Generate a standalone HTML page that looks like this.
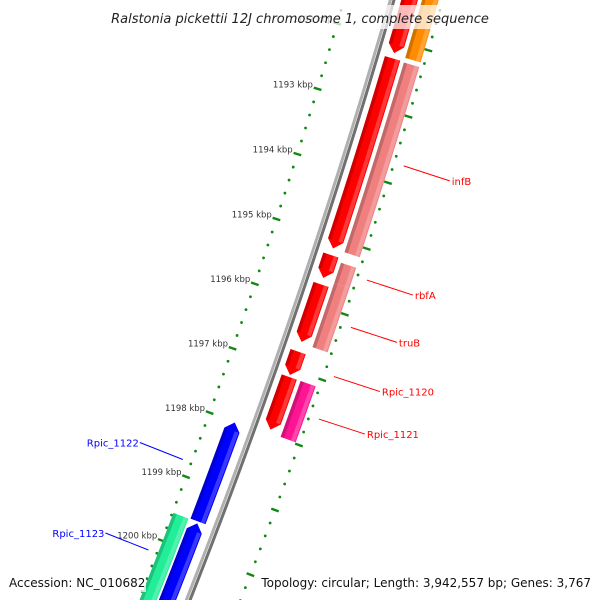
<!DOCTYPE html>
<html><head><meta charset="utf-8"><style>
html,body{margin:0;padding:0;background:#fff;width:600px;height:600px;overflow:hidden}
svg{display:block;font-family:"DejaVu Sans","Liberation Sans",sans-serif}
</style></head><body>
<svg id="map" width="600" height="600" viewBox="0 0 600 600" xmlns="http://www.w3.org/2000/svg">
<g id="ticks"></g>
<g id="backbone"></g>
<g id="features"></g>
<g id="labels"></g>
<rect x="98" y="5" width="404" height="24" fill="#fff" fill-opacity="0.72"/>
<text x="300" y="23" text-anchor="middle" font-style="italic" font-size="13" fill="#222">Ralstonia pickettii 12J chromosome 1, complete sequence</text>
<rect x="4" y="572" width="142" height="20" fill="#fff" fill-opacity="0.72"/>
<text x="9" y="587" font-size="12" fill="#111">Accession: NC_010682</text>
<rect x="256" y="572" width="340" height="20" fill="#fff" fill-opacity="0.72"/>
<text x="591" y="587" text-anchor="end" font-size="12" fill="#111">Topology: circular; Length: 3,942,557 bp; Genes: 3,767</text>
</svg>
<script>
// ---- data ----
const featNames  = ['prev','infB','rbfA','truB','Rpic_1120','unl','orange','infB_p','rbfA_p','truB_p','Rpic_1121','Rpic_1122','blue2','Rpic_1123'];
const featStart  = [1190.5,1192.26,1195.25,1195.70,1196.73,1197.12,1190.5,1192.27,1195.31,1195.62,1197.12,1198.01,1199.58,1199.56];
const featEnd    = [1192.18,1195.15,1195.60,1196.58,1197.09,1197.93,1192.20,1195.15,1195.62,1196.60,1197.98,1199.55,1201.5,1201.5];
const featStrand = [1,1,1,1,1,1,0,0,0,0,0,-1,-1,0];
const featLane   = [0,0,0,0,0,0,1,1,1,1,1,2,2,3];
const featColor  = ['#ff0000','#ff0000','#ff0000','#ff0000','#ff0000','#ff0000','#ff8c00','#f08080','#f08080','#f08080','#ff1493','#0000ff','#0000ff','#22ee99'];
const labelNames = ['infB','rbfA','truB','Rpic_1120','Rpic_1121','Rpic_1122','Rpic_1123'];
const labelPos   = [1193.70,1195.43,1196.15,1196.90,1197.55,1198.78,1200.20];
const labelSide  = [1,1,1,1,1,-1,-1];
const tickStartKbp = 1191;
const tickEndKbp = 1200.8;
// ---- geometry ----
const NS='http://www.w3.org/2000/svg';
const CX=-5981, CY=-1832;
const laneR=[[6640,6656],[6660,6676],[6604,6620],[6586,6602]];
function ang(k){return (16.96+(k-1193)*0.594)*Math.PI/180;}
function pt(k,r){const a=ang(k);return [CX+r*Math.cos(a),CY+r*Math.sin(a)];}
function f(p){return p[0].toFixed(2)+','+p[1].toFixed(2);}
function el(t,attrs,parent){const e=document.createElementNS(NS,t);for(const k in attrs)e.setAttribute(k,attrs[k]);parent.appendChild(e);return e;}
function arcPts(k1,k2,r){const n=Math.max(2,Math.ceil(Math.abs(k2-k1)*6));const a=[];for(let i=0;i<=n;i++)a.push(pt(k1+(k2-k1)*i/n,r));return a;}
function poly(k1,k2,r1,r2,strand){
  const ah=0.12, rm=(r1+r2)/2; let pts=[];
  if(strand===1){const e=k2-ah;pts=arcPts(k1,e,r2).concat([pt(k2,rm)]).concat(arcPts(e,k1,r1));}
  else if(strand===-1){const s=k1+ah;pts=[pt(k1,rm)].concat(arcPts(s,k2,r2)).concat(arcPts(k2,s,r1));}
  else{pts=arcPts(k1,k2,r2).concat(arcPts(k2,k1,r1));}
  return pts.map(f).join(' ');
}
// ticks
const tg=document.getElementById('ticks');
const rings=[6585,6680];
for(let i=Math.round(tickStartKbp*5);i<=Math.round(tickEndKbp*5);i++){
  const k=i/5;
  for(const r of rings){
    if(i%5===0){
      const a=pt(k,r-4), b=pt(k,r+4);
      const l=el('line',{x1:a[0],y1:a[1],x2:b[0],y2:b[1],stroke:'#118811','stroke-width':2.4},tg);
      
      
    }else{
      const p=pt(k,r);
      const c=el('circle',{cx:p[0],cy:p[1],r:1.4,fill:'#118811'},tg);
      
      
    }
  }
  if(i%5===0){
    const p=pt(k,6577);
    const t=el('text',{x:p[0]+3,y:p[1]+1,'text-anchor':'end','font-size':'8.5',fill:'#333'},tg);
    t.textContent=(i/5)+' kbp';
    
    
  }
}
// backbone
const bg=document.getElementById('backbone');
const b1=el('polyline',{points:arcPts(1190.8,1201.4,6629.5).map(f).join(' '),fill:'none',stroke:'#b0b0b0','stroke-width':3},bg);


const b2=el('polyline',{points:arcPts(1190.8,1201.4,6633).map(f).join(' '),fill:'none',stroke:'#707070','stroke-width':3},bg);


// features
const fg=document.getElementById('features');
for(let i=0;i<featNames.length;i++){
  const [r1,r2]=laneR[featLane[i]];
  const g=el('g',{},fg);
  
  
  el('polygon',{points:poly(featStart[i],featEnd[i],r1,r2,featStrand[i]),fill:featColor[i]},g);
  const s=featStrand[i]===-1?featStart[i]+0.12:featStart[i];
  const e=featStrand[i]===1?featEnd[i]-0.12:featEnd[i];
  el('polygon',{points:poly(s,e,r1,r1+3.5,0),fill:'#000','fill-opacity':0.18},g);
  el('polygon',{points:poly(s,e,r2-5,r2-1,0),fill:'#fff','fill-opacity':0.22},g);
}
// labels
const lg=document.getElementById('labels');
for(let i=0;i<labelNames.length;i++){
  const side=labelSide[i];
  const p=pt(labelPos[i],side>0?6690:6576);
  const q=side>0?[p[0]+46,p[1]+15]:[p[0]-43,p[1]-17];
  const col=side>0?'#ff0000':'#0000ff';
  const l=el('line',{x1:p[0],y1:p[1],x2:q[0],y2:q[1],stroke:col,'stroke-width':1},lg);
  
  
  const t=el('text',{x:side>0?q[0]+2:q[0]-1,y:q[1]+4,'text-anchor':side>0?'start':'end','font-size':'10',fill:col},lg);
  t.textContent=labelNames[i];
  
  
}
</script>
</body></html>
